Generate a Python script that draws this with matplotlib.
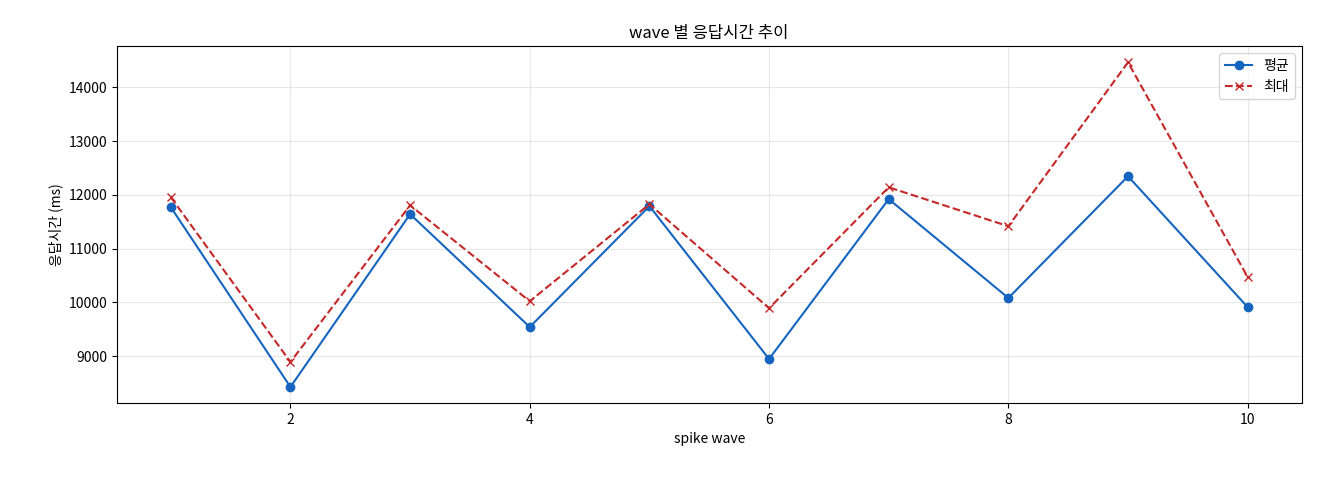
import matplotlib
matplotlib.use("Agg")
import matplotlib.pyplot as plt

plt.rcParams['font.family'] = ['Noto Sans CJK KR', 'DejaVu Sans']

waves = [1, 2, 3, 4, 5, 6, 7, 8, 9, 10]
mean_ms = [11770, 8425, 11640, 9540, 11790, 8945, 11920, 10080, 12345, 9910]
max_ms = [11955, 8890, 11805, 10020, 11825, 9890, 12140, 11415, 14465, 10470]

fig, ax = plt.subplots(figsize=(13.2, 4.8), dpi=100)
ax.plot(waves, mean_ms, marker='o', color='#1565c0', label='평균', markersize=6)
ax.plot(waves, max_ms, marker='x', linestyle='--', color='#c62828', label='최대', markersize=6)
ax.set_title('wave 별 응답시간 추이')
ax.set_xlabel('spike wave')
ax.set_ylabel('응답시간 (ms)')
ax.grid(True, alpha=0.3)
ax.legend(loc='upper right')
fig.subplots_adjust(left=0.0886, right=0.986, top=0.904, bottom=0.160)
fig.savefig('out.png')
